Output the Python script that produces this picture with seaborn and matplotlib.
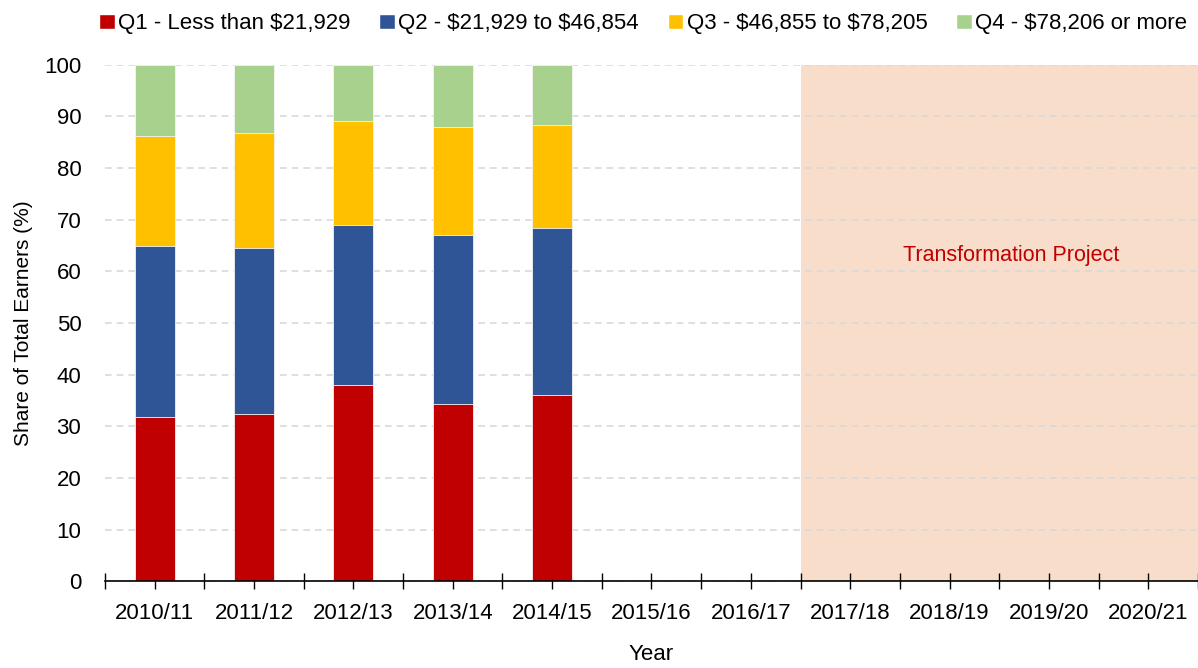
import numpy as np
import pandas as pd
import matplotlib
matplotlib.use("Agg")
import matplotlib.pyplot as plt
import seaborn as sns
from matplotlib.patches import Patch

years = ["2010/11", "2011/12", "2012/13", "2013/14", "2014/15", "2015/16",
         "2016/17", "2017/18", "2018/19", "2019/20", "2020/21"]
data_years = ["2010/11", "2011/12", "2012/13", "2013/14", "2014/15"]

q1 = [31.8, 32.3, 38.0, 34.3, 36.0]
q2 = [33.2, 32.3, 31.0, 32.7, 32.3]
q3 = [21.3, 22.2, 20.1, 20.9, 20.0]
q4 = [13.7, 13.2, 10.9, 12.1, 11.7]

labels = [r"Q1 - Less than \$21,929", r"Q2 - \$21,929 to \$46,854",
          r"Q3 - \$46,855 to \$78,205", r"Q4 - \$78,206 or more"]
colors = ["#C00000", "#2F5597", "#FFC000", "#A9D18E"]

sns.set_style("white")
plt.rcParams['font.family'] = ['Liberation Sans', 'DejaVu Sans']
plt.rcParams['text.color'] = 'black'
plt.rcParams['axes.labelcolor'] = 'black'
plt.rcParams['xtick.color'] = 'black'
plt.rcParams['ytick.color'] = 'black'

df = pd.DataFrame({"year": data_years, "q1": q1, "q2": q2, "q3": q3, "q4": q4})
# cumulative tops, drawn largest first so each layer sits on the next
df["c1"] = df["q1"]
df["c2"] = df["c1"] + df["q2"]
df["c3"] = df["c2"] + df["q3"]
df["c4"] = df["c3"] + df["q4"]

fig = plt.figure(figsize=(11.98, 6.68), dpi=100)
ax = fig.add_axes([0.0876, 0.130, 0.9124, 0.773])

for col, c in zip(["c4", "c3", "c2", "c1"], colors[::-1]):
    sns.barplot(data=df, x="year", y=col, order=years, color=c, width=0.4,
                saturation=1, ax=ax, zorder=2, linewidth=0.6, edgecolor="#f4f4f4")

# shaded project period
ax.axvspan(6.5, 10.5, ymin=0, ymax=1, color="#F8DDCB", zorder=0, lw=0)
ax.text(8.62, 63, "Transformation Project", color="#C00000",
        ha="center", va="center", fontsize=15.5)

ax.set_xlim(-0.5, 10.5)
ax.set_ylim(0, 100)
ax.set_yticks(range(0, 101, 10))
ax.set_axisbelow(True)
ax.yaxis.grid(True, color="#D9D9D9", linestyle=(0, (4, 3)), linewidth=1.2, zorder=1)
ax.xaxis.grid(False)

for s in ["top", "right", "left"]:
    ax.spines[s].set_visible(False)
ax.spines["bottom"].set_color("black")
ax.spines["bottom"].set_linewidth(1.2)

ax.set_xticks(np.arange(-0.5, 11, 1), minor=True)
ax.tick_params(axis="x", which="both", direction="inout", length=12, width=1,
               labelsize=16, pad=10, bottom=True)
ax.tick_params(axis="y", length=0, labelsize=16, pad=17)

ax.set_xlabel("Year", fontsize=16, labelpad=14)
ax.set_ylabel("Share of Total Earners (%)", fontsize=15, labelpad=8)

handles = [Patch(facecolor=c, label=l) for c, l in zip(colors, labels)]
fig.legend(handles=handles, loc="upper center", bbox_to_anchor=(0.537, 1.01),
           ncol=4, frameon=False, fontsize=16, handlelength=0.7, handleheight=0.7,
           handletextpad=0.15, columnspacing=1.3)

fig.savefig("out.png", dpi=100)
